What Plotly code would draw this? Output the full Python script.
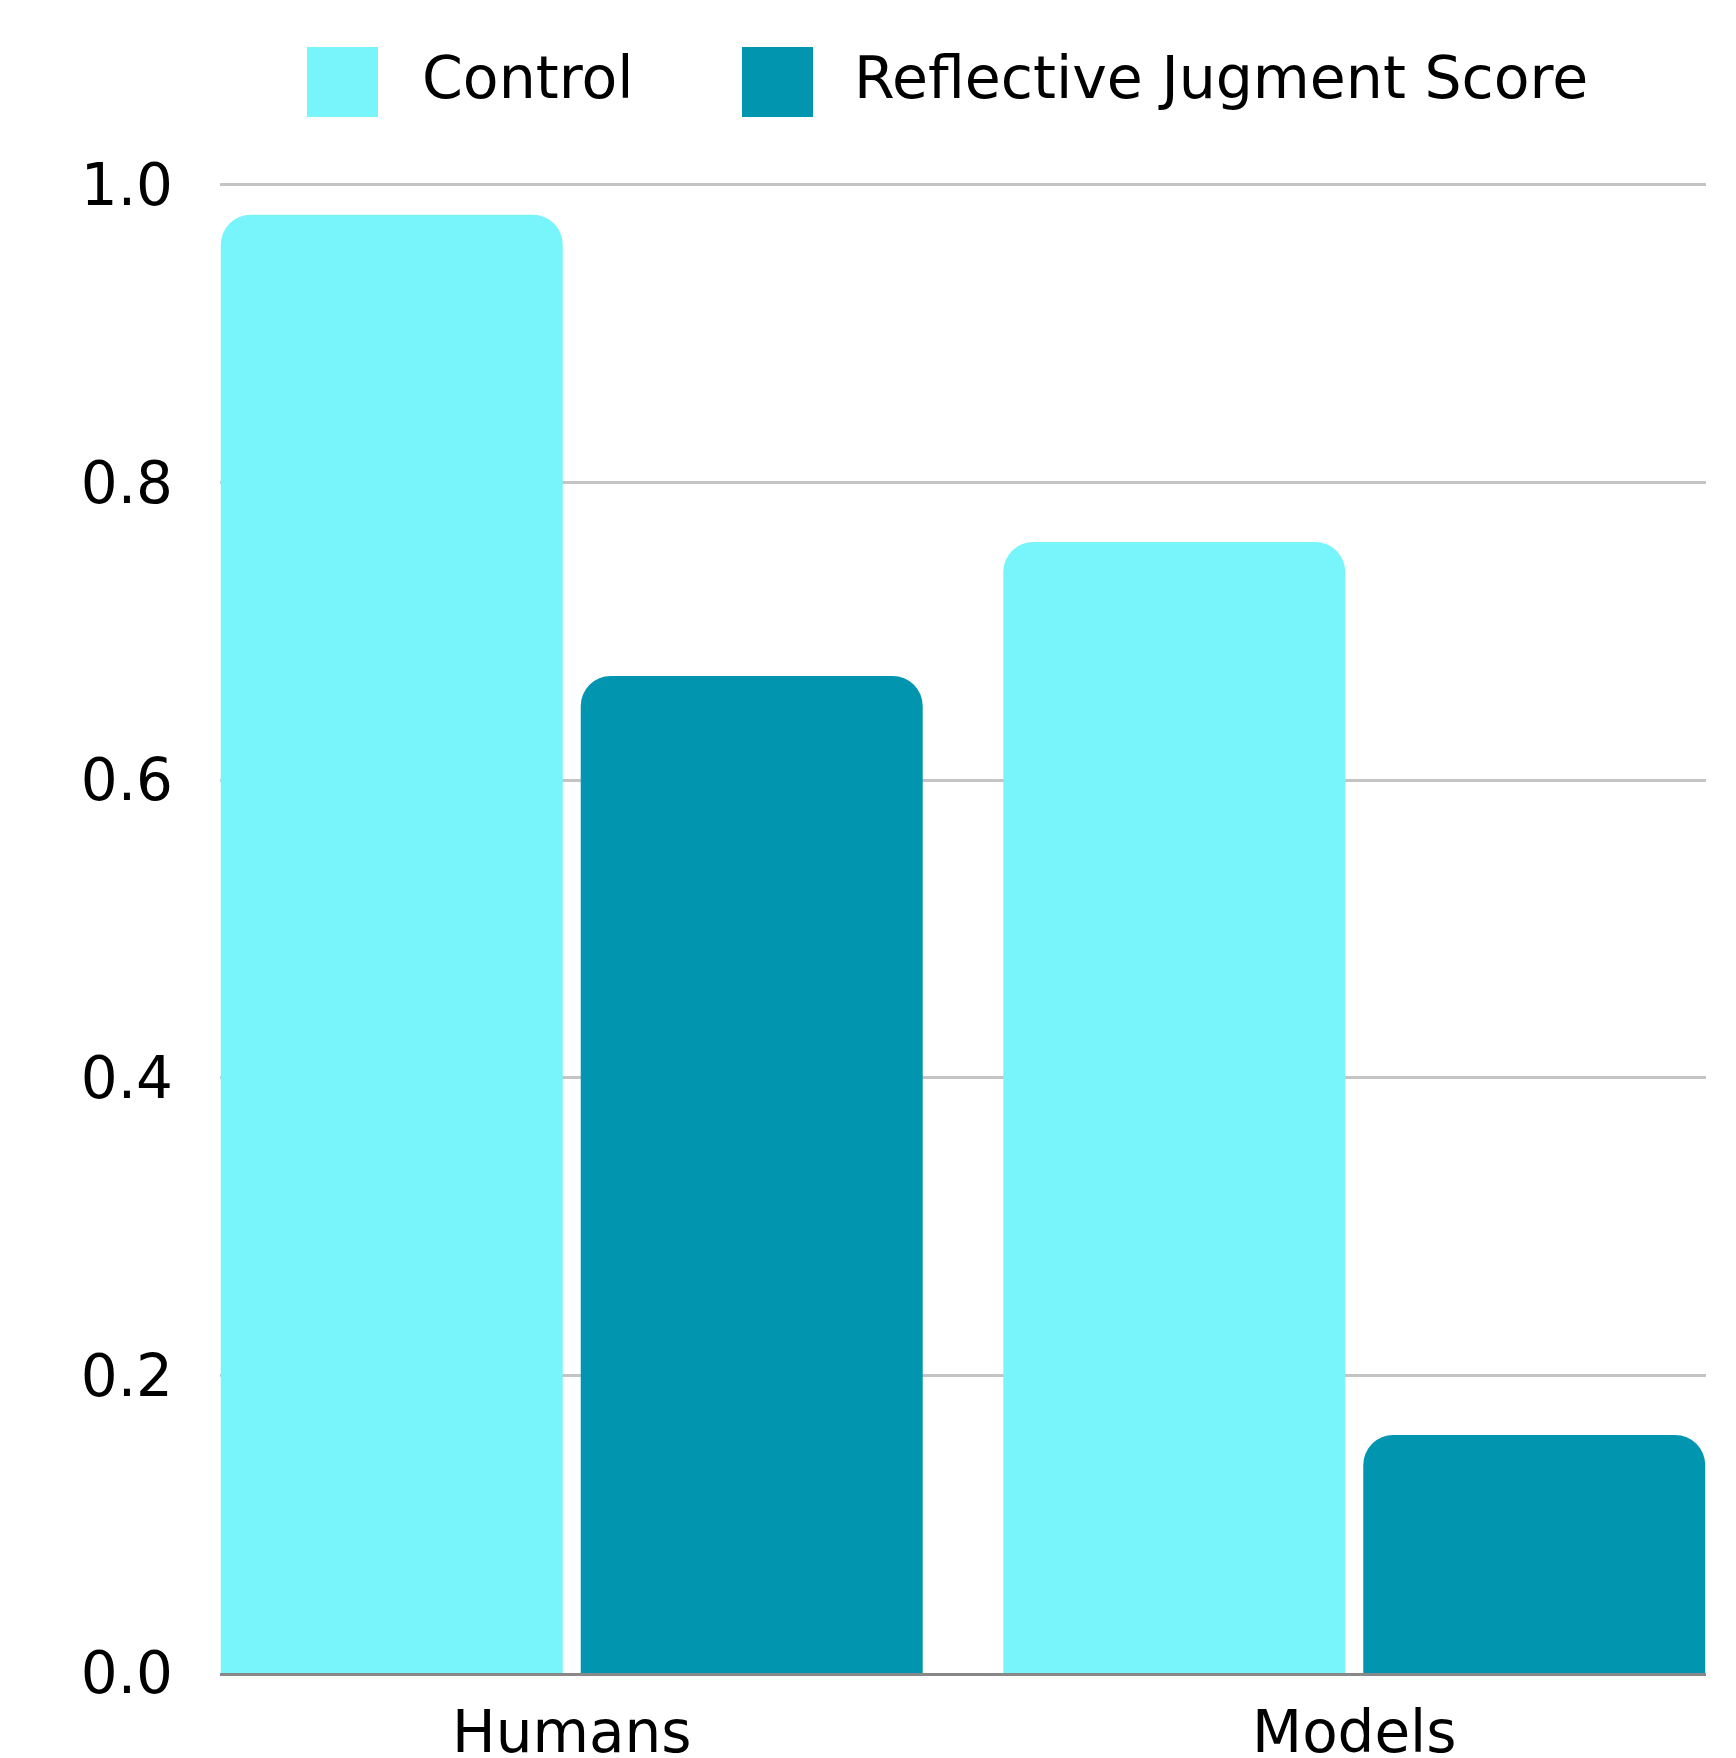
import plotly.graph_objects as go

categories = ["Humans", "Models"]
control = [0.98, 0.76]
reflective = [0.67, 0.16]
series_names = ["Control", "Reflective Jugment Score"]
colors = ["#77F5FA", "#0295B0"]
y_ticks = [0.0, 0.2, 0.4, 0.6, 0.8, 1.0]

W, H = 1736, 1758
Y_TOP = 1.004
L, R, B = 220, 30, 85
ph = (H - B - 185) * Y_TOP  # 1.0 at y=185
T = H - B - ph
pw = W - L - R

def px_x(p):
    return (p - L) / pw

def px_y(p):
    return (H - B - p) / ph

FONT = "DejaVu Sans"
fig = go.Figure()
for name, vals, col in zip(series_names, [control, reflective], colors):
    fig.add_trace(go.Bar(x=categories, y=vals, name=name, marker_color=col,
                         marker_line_width=0, showlegend=False))

fig.update_layout(
    width=W, height=H,
    margin=dict(l=L, r=R, t=T, b=B, autoexpand=False),
    paper_bgcolor="white", plot_bgcolor="white",
    barmode="group", bargap=0.08, bargroupgap=0.05,
    barcornerradius=30,
    font=dict(family=FONT, size=58, color="black"),
)
fig.update_xaxes(range=[-0.4495, 1.4495], showgrid=False, showline=True,
                 linecolor="#888888", linewidth=3, ticks="", tickfont=dict(size=58),
                 ticklabelstandoff=6, automargin=False)
fig.update_yaxes(range=[0, Y_TOP], tickvals=y_ticks, ticktext=[f"{v:.1f}" for v in y_ticks],
                 showgrid=True, gridcolor="#C4C4C4", gridwidth=3, zeroline=False,
                 showline=False, ticks="", tickfont=dict(size=58), ticklabelstandoff=46,
                 automargin=False)

# custom legend
legend_items = [(307, 378, 420), (742, 813, 852)]
for (x0, x1, tx), name, col in zip(legend_items, series_names, colors):
    fig.add_shape(type="rect", xref="paper", yref="paper",
                  x0=px_x(x0), x1=px_x(x1), y0=px_y(117), y1=px_y(47),
                  fillcolor=col, line_width=0)
    fig.add_annotation(xref="paper", yref="paper", x=px_x(tx), y=px_y(78),
                       text=name, showarrow=False, xanchor="left", yanchor="middle",
                       font=dict(family=FONT, size=58.5, color="black"))

fig.write_html("out.html")
